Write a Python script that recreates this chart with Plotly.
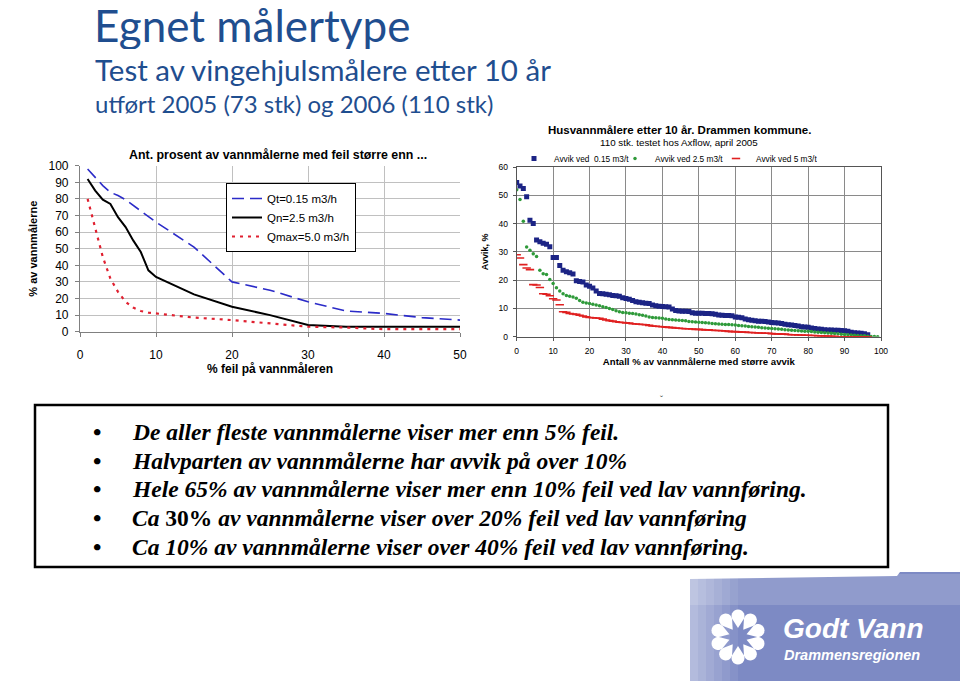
import math
import plotly.graph_objects as go

W, H = 960, 681
def px(x): return x / W
def py(y): return 1 - y / H

# ---------------- Left chart data ----------------
feil_pct = [1, 2, 3, 4, 5, 6, 7, 8, 9, 10, 15, 20, 25, 30, 35, 40, 45, 50]
qt_015 = [98, 93, 88, 84, 82, 79.5, 76, 72.5, 69, 66, 51, 30, 25, 18, 12.5, 11, 8.5, 7]
qn_25 = [92, 85, 79.5, 77, 69, 63, 55, 48, 37, 33, 22.5, 15, 10, 4, 3, 3, 3, 3]
qmax_50 = [80, 62, 45, 32, 24, 18, 14.5, 12.5, 11.5, 11, 8.5, 7, 5, 3, 2.5, 1.5, 1.5, 1.5]
left_names = ["Qt=0.15 m3/h", "Qn=2.5 m3/h", "Qmax=5.0 m3/h"]

# ---------------- Right chart data (110 meters, sorted) ----------------
n_meters = 110
rank_pct = [100 * i / n_meters for i in range(n_meters)]
avvik_015 = [54.5, 53.3, 52.4, 49.5, 41.2, 40.0, 34.2, 33.6, 33.0, 32.7,
             31.8, 28.0, 28.0, 25.2, 23.5, 23.0, 22.6, 22.2, 19.8, 19.5,
             19.3, 18.3, 17.8, 17.2, 16.2, 15.3, 15.2, 15.0, 14.8, 14.6,
             14.5, 14.3, 13.8, 13.5, 13.2, 12.8, 12.4, 12.2, 12.0, 11.8,
             11.7, 11.2, 10.9, 10.8, 10.7, 10.6, 10.5, 9.8, 9.3, 9.1,
             9.0, 9.0, 8.9, 8.5, 8.3, 8.3, 8.3, 8.2, 8.2, 8.1,
             7.9, 7.7, 7.6, 7.5, 7.5, 7.4, 7.0, 6.9, 6.7, 6.3,
             6.0, 5.8, 5.6, 5.5, 5.5, 5.4, 5.2, 5.0, 4.9, 4.8,
             4.7, 4.4, 4.2, 4.1, 4.0, 3.8, 3.5, 3.4, 3.3, 3.1,
             2.9, 2.7, 2.6, 2.5, 2.4, 2.4, 2.3, 2.3, 2.2, 2.1,
             1.9, 1.6, 1.4, 1.3, 1.2, 1.0, 0.7, None, None, None]
avvik_25 = [52.0, 48.5, 40.8, 31.7, 30.6, 29.3, 28.4, 23.5, 22.3, 22.0,
            20.2, 18.8, 17.3, 16.2, 15.2, 14.6, 14.3, 14.0, 13.6, 12.8,
            12.2, 11.9, 11.7, 11.5, 11.2, 10.9, 10.6, 10.3, 10.0, 9.6,
            9.2, 8.8, 8.6, 8.5, 8.3, 8.2, 8.0, 7.8, 7.6, 7.3,
            7.0, 6.8, 6.7, 6.6, 6.5, 6.3, 6.1, 6.0, 5.9, 5.8,
            5.7, 5.6, 5.4, 5.3, 5.2, 5.1, 5.0, 4.9, 4.8, 4.7,
            4.6, 4.5, 4.4, 4.3, 4.3, 4.2, 4.1, 4.0, 3.9, 3.8,
            3.6, 3.5, 3.4, 3.3, 3.2, 3.1, 3.0, 2.9, 2.8, 2.7,
            2.6, 2.5, 2.4, 2.3, 2.2, 2.1, 2.0, 1.9, 1.9, 1.8,
            1.7, 1.6, 1.5, 1.4, 1.3, 1.2, 1.1, 1.0, 0.9, 0.8,
            0.7, 0.6, 0.5, 0.4, 0.3, 0.3, 0.2, 0.1, 0.1, 0.0]
avvik_5 = [29.0, 27.8, 25.5, 24.3, 23.7, 18.4, 18.3, 17.4, 15.2, 15.0,
           14.5, 13.4, 13.0, 11.3, 8.8, 8.6, 8.2, 8.0, 7.9, 7.6,
           7.3, 7.0, 6.8, 6.7, 6.6, 6.5, 6.2, 5.9, 5.7, 5.5,
           5.3, 5.1, 5.0, 4.9, 4.8, 4.6, 4.5, 4.4, 4.3, 4.2,
           4.0, 3.8, 3.7, 3.6, 3.5, 3.4, 3.3, 3.2, 3.1, 3.0,
           2.9, 2.8, 2.8, 2.7, 2.6, 2.6, 2.5, 2.4, 2.4, 2.3,
           2.2, 2.2, 2.1, 2.0, 1.9, 1.8, 1.8, 1.7, 1.6, 1.6,
           1.5, 1.5, 1.4, 1.3, 1.3, 1.2, 1.2, 1.1, 1.0, 1.0,
           0.9, 0.9, 0.8, 0.7, 0.7, 0.6, 0.6, 0.5, 0.5, 0.4,
           0.4, 0.3, 0.3, 0.2, 0.2, 0.1, 0.1, 0.0, 0.0, 0.0,
           0.0, 0.0, 0.0, 0.0, 0.0, 0.0, 0.0, None, None, None]
right_names = ["Avvik ved  0.15 m3/t", "Avvik ved 2.5 m3/t", "Avvik ved 5 m3/t"]

bullets = [
    "<b><i>De aller fleste vannmålerne viser mer enn 5% feil.</i></b>",
    "<b><i>Halvparten av vannmålerne har avvik på over 10%</i></b>",
    "<b><i>Hele 65% av vannmålerne viser mer enn 10% feil ved lav vannføring.</i></b>",
    "<b><i>Ca </i>30%<i> av vannmålerne viser over 20% feil ved lav vannføring</i></b>",
    "<b><i>Ca 10% av vannmålerne viser over 40% feil ved lav vannføring.</i></b>",
]

TITLE_BLUE = "#1F4E8F"
fig = go.Figure()

# Left chart traces
fig.add_trace(go.Scatter(x=feil_pct, y=qt_015, mode="lines", name=left_names[0],
                         line=dict(color="#2B2BC8", width=1.6, dash="12px,6px"),
                         xaxis="x", yaxis="y", legend="legend"))
fig.add_trace(go.Scatter(x=feil_pct, y=qn_25, mode="lines", name=left_names[1],
                         line=dict(color="#000000", width=2),
                         xaxis="x", yaxis="y", legend="legend"))
fig.add_trace(go.Scatter(x=feil_pct, y=qmax_50, mode="lines", name=left_names[2],
                         line=dict(color="#E02030", width=2.2, dash="3px,5px"),
                         xaxis="x", yaxis="y", legend="legend"))

# Right chart traces
fig.add_trace(go.Scatter(x=rank_pct, y=avvik_015, mode="markers", name=right_names[0],
                         marker=dict(symbol="square", size=5, color="#1C2485"),
                         xaxis="x2", yaxis="y2", legend="legend2"))
fig.add_trace(go.Scatter(x=rank_pct, y=avvik_25, mode="markers", name=right_names[1],
                         marker=dict(symbol="circle", size=3.5, color="#2F9A3A"),
                         xaxis="x2", yaxis="y2", legend="legend2"))
fig.add_trace(go.Scatter(x=rank_pct, y=avvik_5, mode="markers", name=right_names[2],
                         marker=dict(symbol="line-ew", size=6,
                                     line=dict(width=1.6, color="#E02020")),
                         xaxis="x2", yaxis="y2", legend="legend2"))

axfont = dict(family="Arial", color="black")

fig.update_layout(
    width=W, height=H, margin=dict(l=0, r=0, t=0, b=0, autoexpand=False),
    paper_bgcolor="white", plot_bgcolor="white",
    xaxis=dict(domain=[px(80), px(460)], range=[0, 50], dtick=10, anchor="y",
               automargin=False,
               showgrid=True, gridcolor="#C0C0C0", gridwidth=1, zeroline=False,
               showline=True, linecolor="#808080", linewidth=1.2,
               ticks="outside", ticklen=4, tickcolor="#808080",
               ticklabelstandoff=8,
               tickfont=dict(size=12, **axfont),
               title=dict(text="<b>% feil på vannmåleren</b>", standoff=2,
                          font=dict(size=12, **axfont))),
    yaxis=dict(domain=[py(331.7), py(165.7)], range=[0, 100], dtick=10, anchor="x",
               automargin=False,
               showgrid=True, gridcolor="#C0C0C0", gridwidth=1, zeroline=False,
               showline=True, linecolor="#808080", linewidth=1.2,
               ticks="outside", ticklen=4, tickcolor="#808080",
               ticklabelstandoff=4,
               tickfont=dict(size=12, **axfont),
               title=dict(text="<b>% av vannmålerne</b>", standoff=8,
                          font=dict(size=11, **axfont))),
    xaxis2=dict(domain=[px(516.7), px(881)], range=[0, 100], dtick=10, anchor="y2",
                automargin=False,
                showgrid=True, gridcolor="#8A8A8A", gridwidth=1, zeroline=False,
                showline=True, linecolor="#555555", linewidth=1, mirror=True,
                ticks="outside", ticklen=3, tickcolor="#555555",
                ticklabelstandoff=3,
                tickfont=dict(size=8.5, **axfont),
                title=dict(text="<b>Antall % av vannmålerne med større avvik</b>", standoff=2,
                           font=dict(size=9.6, **axfont))),
    yaxis2=dict(domain=[py(336.7), py(167)], range=[0, 60], dtick=10, anchor="x2",
                automargin=False,
                showgrid=True, gridcolor="#8A8A8A", gridwidth=1, zeroline=False,
                showline=True, linecolor="#555555", linewidth=1, mirror=True,
                ticks="outside", ticklen=3, tickcolor="#555555", ticklabelstandoff=3,
                tickfont=dict(size=8.5, **axfont),
                title=dict(text="<b>Avvik, %</b>", standoff=8,
                           font=dict(size=9, **axfont))),
    legend=dict(x=px(226), y=py(183), xanchor="left", yanchor="top",
                bgcolor="white", bordercolor="black", borderwidth=1,
                font=dict(size=11.5, **axfont), tracegroupgap=0,
                itemwidth=30),
    legend2=dict(orientation="h", x=px(514), y=py(144), xanchor="left", yanchor="top",
                 bgcolor="rgba(0,0,0,0)", font=dict(size=8.3, **axfont),
                 itemwidth=30, entrywidth=56, entrywidthmode="pixels"),
)

ann = []
# Slide titles
ann.append(dict(text="Egnet målertype", x=px(92), y=py(25), xref="paper", yref="paper",
                xanchor="left", yanchor="middle", showarrow=False, height=48, valign="middle",
                font=dict(family="Lato", size=44, color=TITLE_BLUE)))
ann.append(dict(text="Test av vingehjulsmålere etter 10 år", x=px(93), y=py(69), xref="paper",
                yref="paper", xanchor="left", yanchor="middle", showarrow=False,
                font=dict(family="Lato", size=29.5, color=TITLE_BLUE)))
ann.append(dict(text="utført 2005 (73 stk) og 2006 (110 stk)", x=px(93), y=py(103), xref="paper",
                yref="paper", xanchor="left", yanchor="middle", showarrow=False,
                font=dict(family="Lato", size=24, color=TITLE_BLUE)))
# Chart titles
ann.append(dict(text="<b>Ant. prosent av vannmålerne med feil større enn ...</b>",
                x=px(278), y=py(155), xref="paper", yref="paper", xanchor="center",
                yanchor="middle", showarrow=False, font=dict(size=12.4, **axfont)))
ann.append(dict(text="<b>Husvannmålere etter 10 år. Drammen kommune.</b>",
                x=px(679), y=py(130), xref="paper", yref="paper", xanchor="center",
                yanchor="middle", showarrow=False, font=dict(size=11.5, **axfont)))
ann.append(dict(text="110 stk. testet hos Axflow, april 2005",
                x=px(679), y=py(143), xref="paper", yref="paper", xanchor="center",
                yanchor="middle", showarrow=False, font=dict(size=9.8, **axfont)))
ann.append(dict(text="ˇ", x=px(661), y=py(399), xref="paper", yref="paper",
                xanchor="center", yanchor="middle", showarrow=False,
                font=dict(family="Arial", size=9, color="#444444")))
# Bullets
line_y = [432, 461, 489, 518, 547]
for t, yy in zip(bullets, line_y):
    ann.append(dict(text="<b>•</b>", x=px(97), y=py(yy), xref="paper", yref="paper",
                    xanchor="center", yanchor="middle", showarrow=False,
                    font=dict(family="Liberation Serif", size=24, color="black")))
    ann.append(dict(text=t, x=px(130), y=py(yy), xref="paper", yref="paper",
                    xanchor="left", yanchor="middle", showarrow=False,
                    font=dict(family="Liberation Serif", size=23.5, color="black")))
# Logo text
ann.append(dict(text="<b><i>Godt Vann</i></b>", x=px(781), y=py(628), xref="paper",
                yref="paper", xanchor="left", yanchor="middle", showarrow=False,
                height=26, valign="middle",
                font=dict(family="Liberation Sans", size=28, color="white")))
ann.append(dict(text="<b><i>Drammensregionen</i></b>", x=px(782), y=py(655), xref="paper",
                yref="paper", xanchor="left", yanchor="middle", showarrow=False,
                height=16, valign="middle",
                font=dict(family="Liberation Sans", size=14.5, color="white")))

shapes = []
# bullet box
shapes.append(dict(type="rect", xref="paper", yref="paper", x0=px(35), x1=px(888),
                   y0=py(567), y1=py(405), line=dict(color="black", width=2.5),
                   fillcolor="rgba(0,0,0,0)"))
# logo band
band = (f"M {px(690)},{py(579)} L {px(897)},{py(576)} L {px(900)},{py(572)} "
        f"L {px(960)},{py(572)} L {px(960)},{py(681)} L {px(690)},{py(681)} Z")
shapes.append(dict(type="path", path=band, xref="paper", yref="paper",
                   fillcolor="#7D8AC4", line=dict(width=0), layer="below"))
shapes.append(dict(type="rect", xref="paper", yref="paper", x0=px(690), x1=px(960),
                   y0=py(605), y1=py(574), fillcolor="rgba(255,255,255,0.15)",
                   line=dict(width=0), layer="below"))
for k in range(6):
    shapes.append(dict(type="rect", xref="paper", yref="paper", x0=px(690 + 8 * k),
                       x1=px(698 + 8 * k), y0=py(681), y1=py(572),
                       fillcolor=f"rgba(255,255,255,{0.42 - 0.07 * k:.2f})",
                       line=dict(width=0), layer="below"))
# logo drops
cx, cy = 738, 637
for k in range(10):
    a = math.radians(-90 + 36 * k)
    tipx, tipy = cx + 9 * math.cos(a), cy + 9 * math.sin(a)
    ccx, ccy = cx + 21 * math.cos(a), cy + 21 * math.sin(a)
    pts = [(tipx, tipy)]
    for j in range(15):
        t = a - math.radians(115) + math.radians(230) * j / 14
        pts.append((ccx + 6.5 * math.cos(t), ccy + 6.5 * math.sin(t)))
    path = "M " + " L ".join(f"{px(xx):.5f},{py(yy):.5f}" for xx, yy in pts) + " Z"
    shapes.append(dict(type="path", path=path, xref="paper", yref="paper",
                       fillcolor="white", line=dict(width=0)))

fig.update_layout(annotations=ann, shapes=shapes)
fig.write_html("out.html", config={"displayModeBar": False},
               post_script="document.body.style.margin='0';document.body.style.overflow='hidden';")
